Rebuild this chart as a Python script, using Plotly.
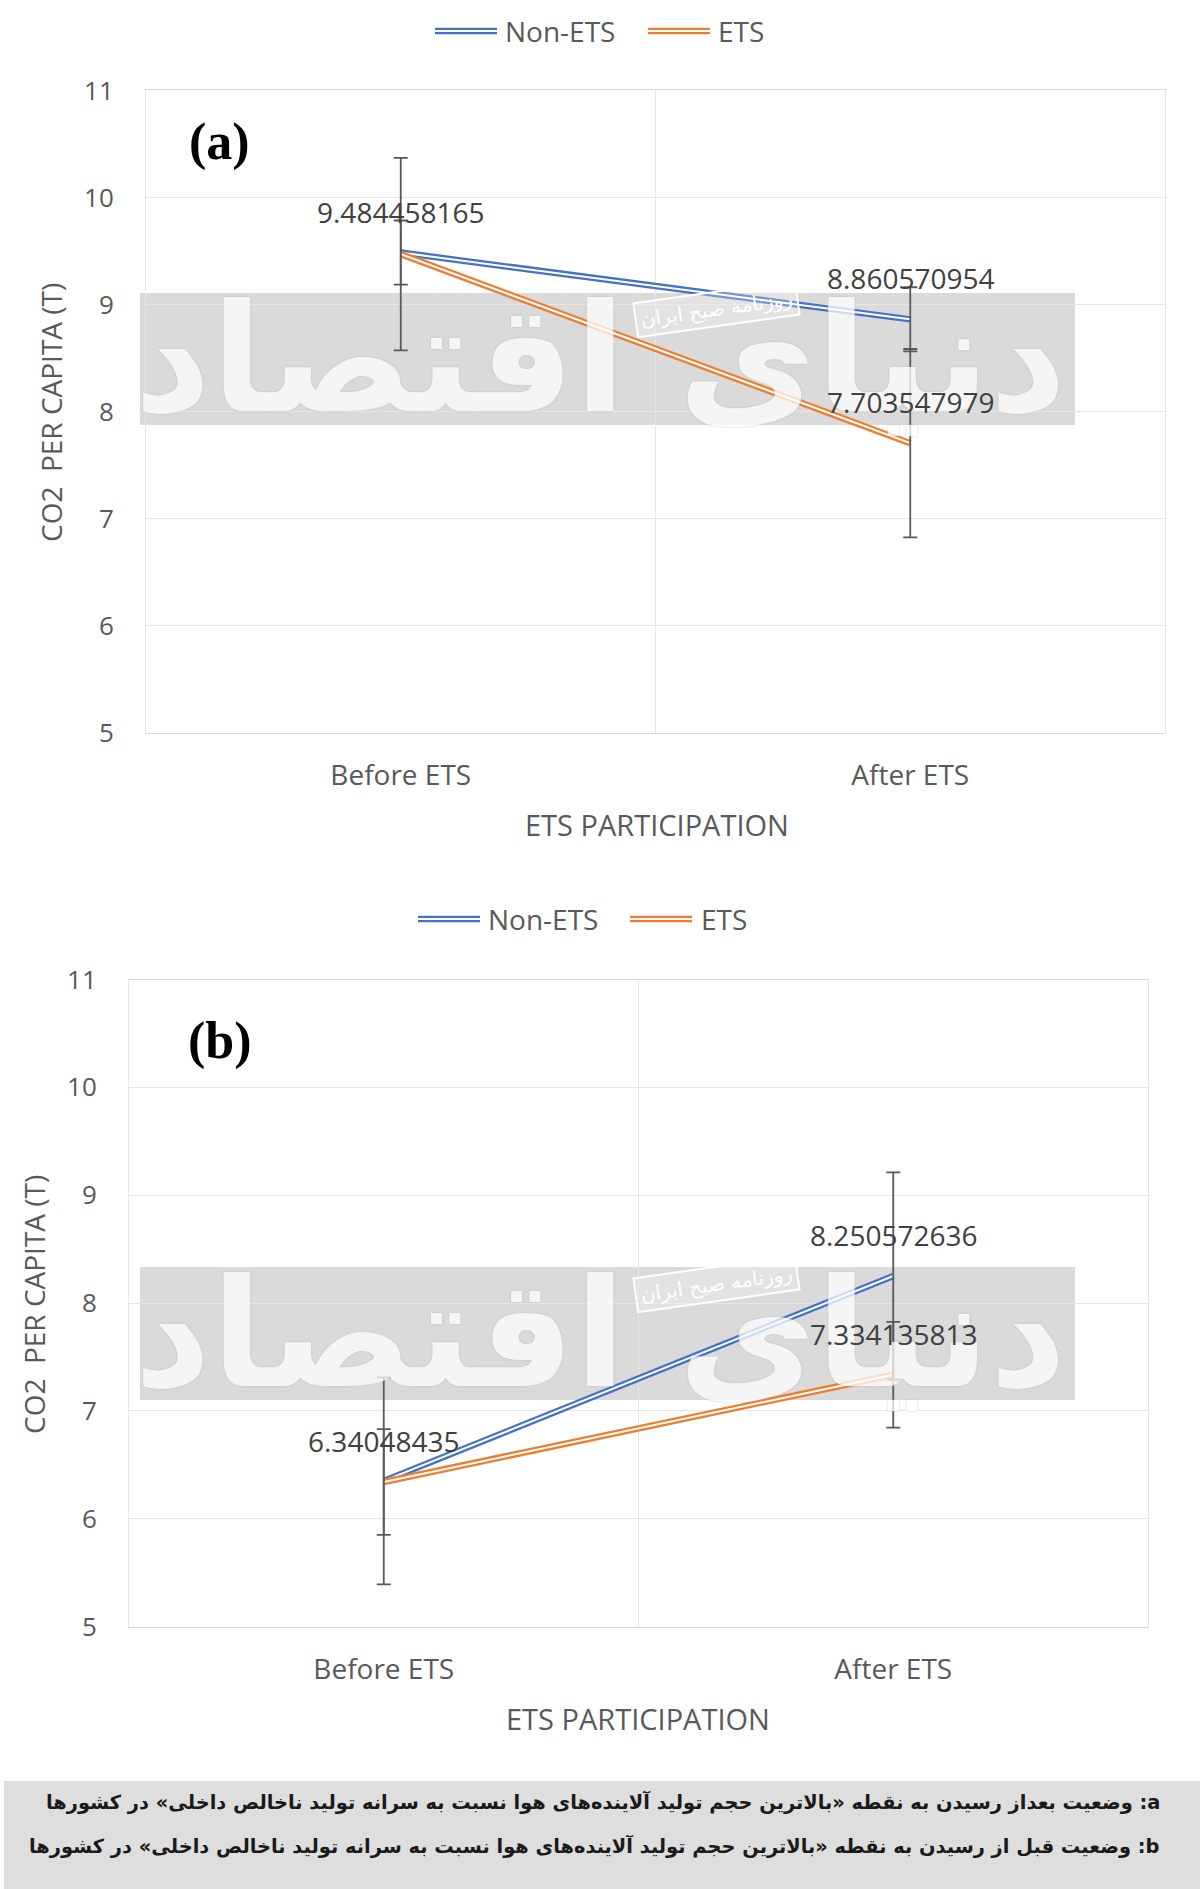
import plotly.graph_objects as go

# ---------------- data ----------------
categories = ["Before ETS", "After ETS"]
y_ticks = [5, 6, 7, 8, 9, 10, 11]

a_non_ets = [9.484458165, 8.860570954]
a_ets = [9.47, 7.703547979]
a_non_ets_err = [0.30, 0.30]
a_ets_err = [0.90, 0.88]
a_non_ets_show = [True, True]
a_ets_show = [False, True]

b_non_ets = [6.35, 8.250572636]
b_ets = [6.34048435, 7.334135813]
b_non_ets_err = [0.96, 0.96]
b_ets_err = [0.49, 0.49]
b_non_ets_show = [False, True]
b_ets_show = [True, True]

series_names = ["Non-ETS", "ETS"]
series_colors = ["#4472C4", "#ED7D31"]

caption_a = "وضعیت بعداز رسیدن به نقطه «بالاترین حجم تولید آلاینده‌های هوا نسبت به سرانه تولید ناخالص داخلی» در کشورها"
caption_b = "وضعیت قبل از رسیدن به نقطه «بالاترین حجم تولید آلاینده‌های هوا نسبت به سرانه تولید ناخالص داخلی» در کشورها"

W, H = 1200, 1889
FONT = "Open Sans"
GREY_TXT = "#595959"


def px(x):
    return x / W


def py(y):
    return 1 - y / H


fig = go.Figure()

panels = [
    dict(xa="x", ya="y", series=[(a_non_ets, a_non_ets_err, a_non_ets_show),
                                 (a_ets, a_ets_err, a_ets_show)]),
    dict(xa="x2", ya="y2", series=[(b_non_ets, b_non_ets_err, b_non_ets_show),
                                   (b_ets, b_ets_err, b_ets_show)]),
]

annotations = []
for p in panels:
    for (vals, err, show), col in zip(p["series"], series_colors):
        fig.add_trace(go.Scatter(x=categories, y=vals, mode="lines",
                                 line=dict(color=col, width=6.5),
                                 xaxis=p["xa"], yaxis=p["ya"], showlegend=False,
                                 hoverinfo="skip"))
        fig.add_trace(go.Scatter(x=categories, y=vals, mode="lines",
                                 line=dict(color="white", width=2),
                                 xaxis=p["xa"], yaxis=p["ya"], showlegend=False,
                                 hoverinfo="skip"))
    for (vals, err, show), col in zip(p["series"], series_colors):
        fig.add_trace(go.Scatter(x=categories, y=vals, mode="markers",
                                 marker=dict(size=1, opacity=0),
                                 error_y=dict(type="data", array=err, visible=True,
                                              color="#595959", thickness=1.8, width=7),
                                 xaxis=p["xa"], yaxis=p["ya"], showlegend=False))
        for c, v, s in zip(categories, vals, show):
            if s:
                annotations.append(dict(x=c, y=v, xref=p["xa"], yref=p["ya"],
                                        text=str(v), showarrow=False, yshift=41,
                                        xanchor="center", yanchor="middle",
                                        font=dict(family=FONT, size=28, color="#404040")))

axis_common = dict(showgrid=True, gridcolor="#e6e6e6", gridwidth=1, zeroline=False,
                   showline=True, mirror=True, ticks="", automargin=False)

xfont = dict(family=FONT, size=28, color=GREY_TXT)
yfont = dict(family=FONT, size=26, color=GREY_TXT)

layout = dict(
    width=W, height=H, autosize=False,
    margin=dict(l=0, r=0, t=0, b=0, pad=0),
    paper_bgcolor="white", plot_bgcolor="rgba(0,0,0,0)",
    showlegend=False,
    xaxis=dict(domain=[px(146), px(1165)], anchor="y", type="category",
               categoryorder="array", categoryarray=categories, range=[-0.5, 1.5],
               tickson="boundaries", linecolor="#d9d9d9", ticklabelstandoff=18,
               tickfont=xfont, **axis_common),
    yaxis=dict(domain=[py(732.5), py(90.4)], anchor="x", range=[5, 11],
               tickvals=y_ticks, linecolor="#e6e6e6", ticklabelstandoff=26,
               tickfont=yfont, **axis_common),
    xaxis2=dict(domain=[px(129), px(1148)], anchor="y2", type="category",
                categoryorder="array", categoryarray=categories, range=[-0.5, 1.5],
                tickson="boundaries", linecolor="#d9d9d9", ticklabelstandoff=18,
                tickfont=xfont, **axis_common),
    yaxis2=dict(domain=[py(1626.5), py(979.5)], anchor="x2", range=[5, 11],
                tickvals=y_ticks, linecolor="#e6e6e6", ticklabelstandoff=26,
                tickfont=yfont, **axis_common),
)

shapes = []
# watermark bands
for (y0, y1) in [(293, 425), (1267, 1400)]:
    shapes.append(dict(type="rect", xref="paper", yref="paper", layer="below",
                       x0=px(140), x1=px(1075), y0=py(y1), y1=py(y0),
                       fillcolor="#dadada", line=dict(width=0)))
# caption box
shapes.append(dict(type="rect", xref="paper", yref="paper", layer="below",
                   x0=px(4), x1=1, y0=0, y1=py(1781),
                   fillcolor="#dedede", line=dict(width=0)))

# manual legends (double line symbol)
legend_specs = [
    (31, [(435, 497, 503), (648, 710, 716)]),
    (919, [(418, 480, 486), (630, 692, 699)]),
]
for ly, items in legend_specs:
    for (x0, x1, tx), name, col in zip(items, series_names, series_colors):
        shapes.append(dict(type="line", xref="paper", yref="paper",
                           x0=px(x0), x1=px(x1), y0=py(ly), y1=py(ly),
                           line=dict(color=col, width=6.5)))
        shapes.append(dict(type="line", xref="paper", yref="paper",
                           x0=px(x0), x1=px(x1), y0=py(ly), y1=py(ly),
                           line=dict(color="white", width=2)))
        annotations.append(dict(x=px(tx), y=py(ly), xref="paper", yref="paper",
                                xanchor="left", yanchor="middle", showarrow=False,
                                text=name, font=dict(family=FONT, size=28, color=GREY_TXT)))

# watermark calligraphy + stamp
for cy, sy in [(359, 309), (1334, 1284)]:
    annotations.insert(0, dict(x=px(600), y=py(cy), xref="paper", yref="paper",
                               xanchor="center", yanchor="middle",
                               showarrow=False, text="<b>دنیای اقتصاد</b>",
                               font=dict(family="DejaVu Sans", size=150, color="white",
                                         shadow="0px 0px 2px #b0b0b0"),
                               opacity=0.75))
    annotations.append(dict(x=px(716), y=py(sy), xref="paper", yref="paper",
                            xanchor="center", yanchor="middle",
                            showarrow=False, text="روزنامه صبح ایران", textangle=-8,
                            font=dict(family="DejaVu Sans", size=20, color="white"),
                            bgcolor="rgba(255,255,255,0.25)", bordercolor="white",
                            borderwidth=2, borderpad=4))

# axis titles
for tx, ty, bx, by in [(657, 825, 51, 413), (638, 1718, 34, 1305)]:
    annotations.append(dict(x=px(tx), y=py(ty), xref="paper", yref="paper",
                            xanchor="center", yanchor="middle",
                            showarrow=False, text="ETS PARTICIPATION",
                            font=dict(family=FONT, size=29, color=GREY_TXT)))
    annotations.append(dict(x=px(bx), y=py(by), xref="paper", yref="paper",
                            xanchor="center", yanchor="middle",
                            showarrow=False, text="CO2  PER CAPITA (T)", textangle=-90,
                            font=dict(family=FONT, size=28, color=GREY_TXT)))

# panel letters
for t, ty in [("(a)", 142), ("(b)", 1041)]:
    annotations.append(dict(x=px(220), y=py(ty), xref="paper", yref="paper",
                            xanchor="center", yanchor="middle",
                            showarrow=False, text="<b>" + t + "</b>",
                            font=dict(family="Liberation Serif", size=52, color="black")))

# caption lines
for cap, letter, ty in [(caption_a, "a", 1802), (caption_b, "b", 1846)]:
    annotations.append(dict(x=px(1162), y=py(ty), xref="paper", yref="paper",
                            xanchor="right", yanchor="middle", showarrow=False,
                            text="<b>" + cap + " :" + letter + "</b>",
                            font=dict(family="DejaVu Sans", size=19.4, color="#1a1a1a")))

layout["shapes"] = shapes
layout["annotations"] = annotations
fig.update_layout(**layout)

fig.write_html("out.html", config={"displayModeBar": False},
               post_script="document.body.style.margin='0';")
